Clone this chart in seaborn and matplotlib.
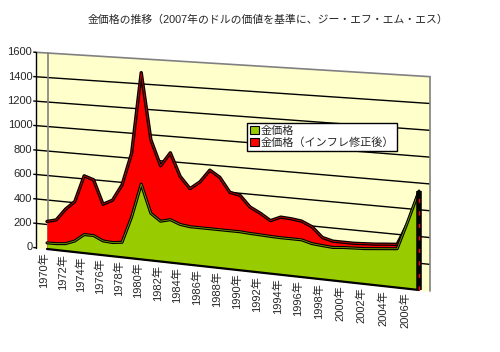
import numpy as np
import matplotlib
matplotlib.use("Agg")
import matplotlib.pyplot as plt
import seaborn as sns
from matplotlib.transforms import Transform
from matplotlib.patches import Patch

# 金価格 (USD/oz) と インフレ修正後 (2007年ドル)
years = np.arange(1970, 2008)
gold = [50, 52, 60, 90, 150, 150, 115, 110, 120, 330,
        600, 375, 320, 340, 310, 300, 300, 300, 300, 300,
        300, 295, 292, 288, 286, 286, 286, 265, 258, 252,
        260, 264, 268, 276, 284, 292, 510, 740]
gold_real = [225, 245, 340, 410, 625, 600, 410, 450, 580, 840,
             1490, 960, 760, 870, 690, 600, 660, 760, 710, 600,
             585, 500, 460, 410, 445, 440, 430, 395, 320, 300,
             300, 300, 305, 310, 318, 325, 495, 730]
ytick_vals = [0, 200, 400, 600, 800, 1000, 1200, 1400, 1600]
xtick_years = list(range(1970, 2007, 2))

title = "金価格の推移（2007年のドルの価値を基準に、ジー・エフ・エム・エス）"
labels = ["金価格", "金価格（インフレ修正後）"]
c_green = "#99CC00"
c_red = "#FF0000"
c_wall = "#FFFFCC"

sns.set_style("white")
plt.rcParams["font.family"] = ["Liberation Sans", "Noto Sans CJK JP"]

W, H = 500, 352
fig = plt.figure(figsize=(W / 100, H / 100), dpi=100)
ax = fig.add_axes([0, 0, 1, 1])


# fake excel 3d look: perspective warp of the unit square (axes fraction)
class Perspective(Transform):
    input_dims = 2
    output_dims = 2
    is_separable = False

    k = 196 / 214  # left height / right height
    x0, y0 = 47.0, 249.0

    def transform_non_affine(self, values):
        v = np.asarray(values, dtype=float)
        u, h = v[:, 0], v[:, 1]
        a = self.k - 1
        p1 = 419 * self.k - self.x0
        q1 = 290 * self.k - self.y0
        w = 1 + a * u
        px = (self.x0 + p1 * u) / w
        py = (self.y0 + q1 * u - 196 * h) / w
        return np.column_stack([px / W, 1 - py / H])


tr = ax.transScale + ax.transLimits + Perspective() + ax.transAxes

x_side, x_back = 1968.8, 2008

# walls
ax.fill_between([x_side, x_back], 0, 1600, color=c_wall, lw=0, transform=tr, zorder=0)
ax.hlines(ytick_vals[1:-1], x_side, x_back, colors="black", lw=1, transform=tr, zorder=1)
ax.plot([x_side, x_back], [1600, 1600], color="#808080", lw=1.2, transform=tr, zorder=1)
ax.plot([x_back, x_back], [0, 1600], color="#808080", lw=1.2, transform=tr, zorder=1)
ax.plot([1970.1, 1970.1], [0, 1600], color="#808080", lw=1.2, transform=tr, zorder=1)
ax.plot([x_side, x_side], [0, 1600], color="black", lw=1, transform=tr, zorder=1)
ax.hlines(ytick_vals, x_side - 0.3, x_side, colors="black", lw=1, transform=tr, zorder=1)

# areas (red behind, green in front)
ax.fill_between(years, 0, gold_real, color=c_red, lw=0, transform=tr, zorder=2)
sns.lineplot(x=years, y=gold_real, color="black", lw=2.4, transform=tr, ax=ax, zorder=3)
sns.lineplot(x=years, y=gold_real, color="#CC0000", lw=0.6, transform=tr, ax=ax, zorder=3)

ax.fill_between(years, 0, gold, color=c_green, lw=0, transform=tr, zorder=4)
sns.lineplot(x=years, y=gold, color="black", lw=2.2, transform=tr, ax=ax, zorder=5)
sns.lineplot(x=years, y=gold, color="#7A9A00", lw=0.6, transform=tr, ax=ax, zorder=5)
ax.plot([1970, 2007], [0, 0], color="black", lw=1.6, transform=tr, zorder=5)

# right side face of the 3d area
ax.vlines(2007, 0, gold[-1], colors="black", lw=4, transform=tr, zorder=6)
ax.vlines(2007, 0, gold_real[-1], colors=c_red, lw=1, linestyles=(0, (3, 6)),
          transform=tr, zorder=7)

# tick labels
for v in ytick_vals:
    ax.text(1968.4, v, str(v), ha="right", va="center", fontsize=8,
            transform=tr)
for yr in xtick_years:
    ax.text(yr - 0.3, -28, f"{yr}年", ha="center", va="top", rotation=90,
            fontsize=8, transform=tr)

fig.text(0.537, 0.943, title, ha="center", va="center", fontsize=7.8)

handles = [Patch(facecolor=c_green, edgecolor="black", lw=0.8),
           Patch(facecolor=c_red, edgecolor="black", lw=0.8)]
leg = fig.legend(handles, labels, loc="upper left", bbox_to_anchor=(0.494, 0.651),
                 bbox_transform=fig.transFigure, fontsize=8, fancybox=False,
                 framealpha=1, edgecolor="black", borderpad=0.25,
                 labelspacing=0.15, handlelength=0.8, handleheight=0.8,
                 handletextpad=0.2, borderaxespad=0)
leg.get_frame().set_linewidth(1)

ax.set_xlim(1970, 2007)
ax.set_ylim(0, 1600)
ax.axis("off")
if ax.get_legend() is not None:
    ax.get_legend().remove()

fig.savefig("out.png", dpi=100)
